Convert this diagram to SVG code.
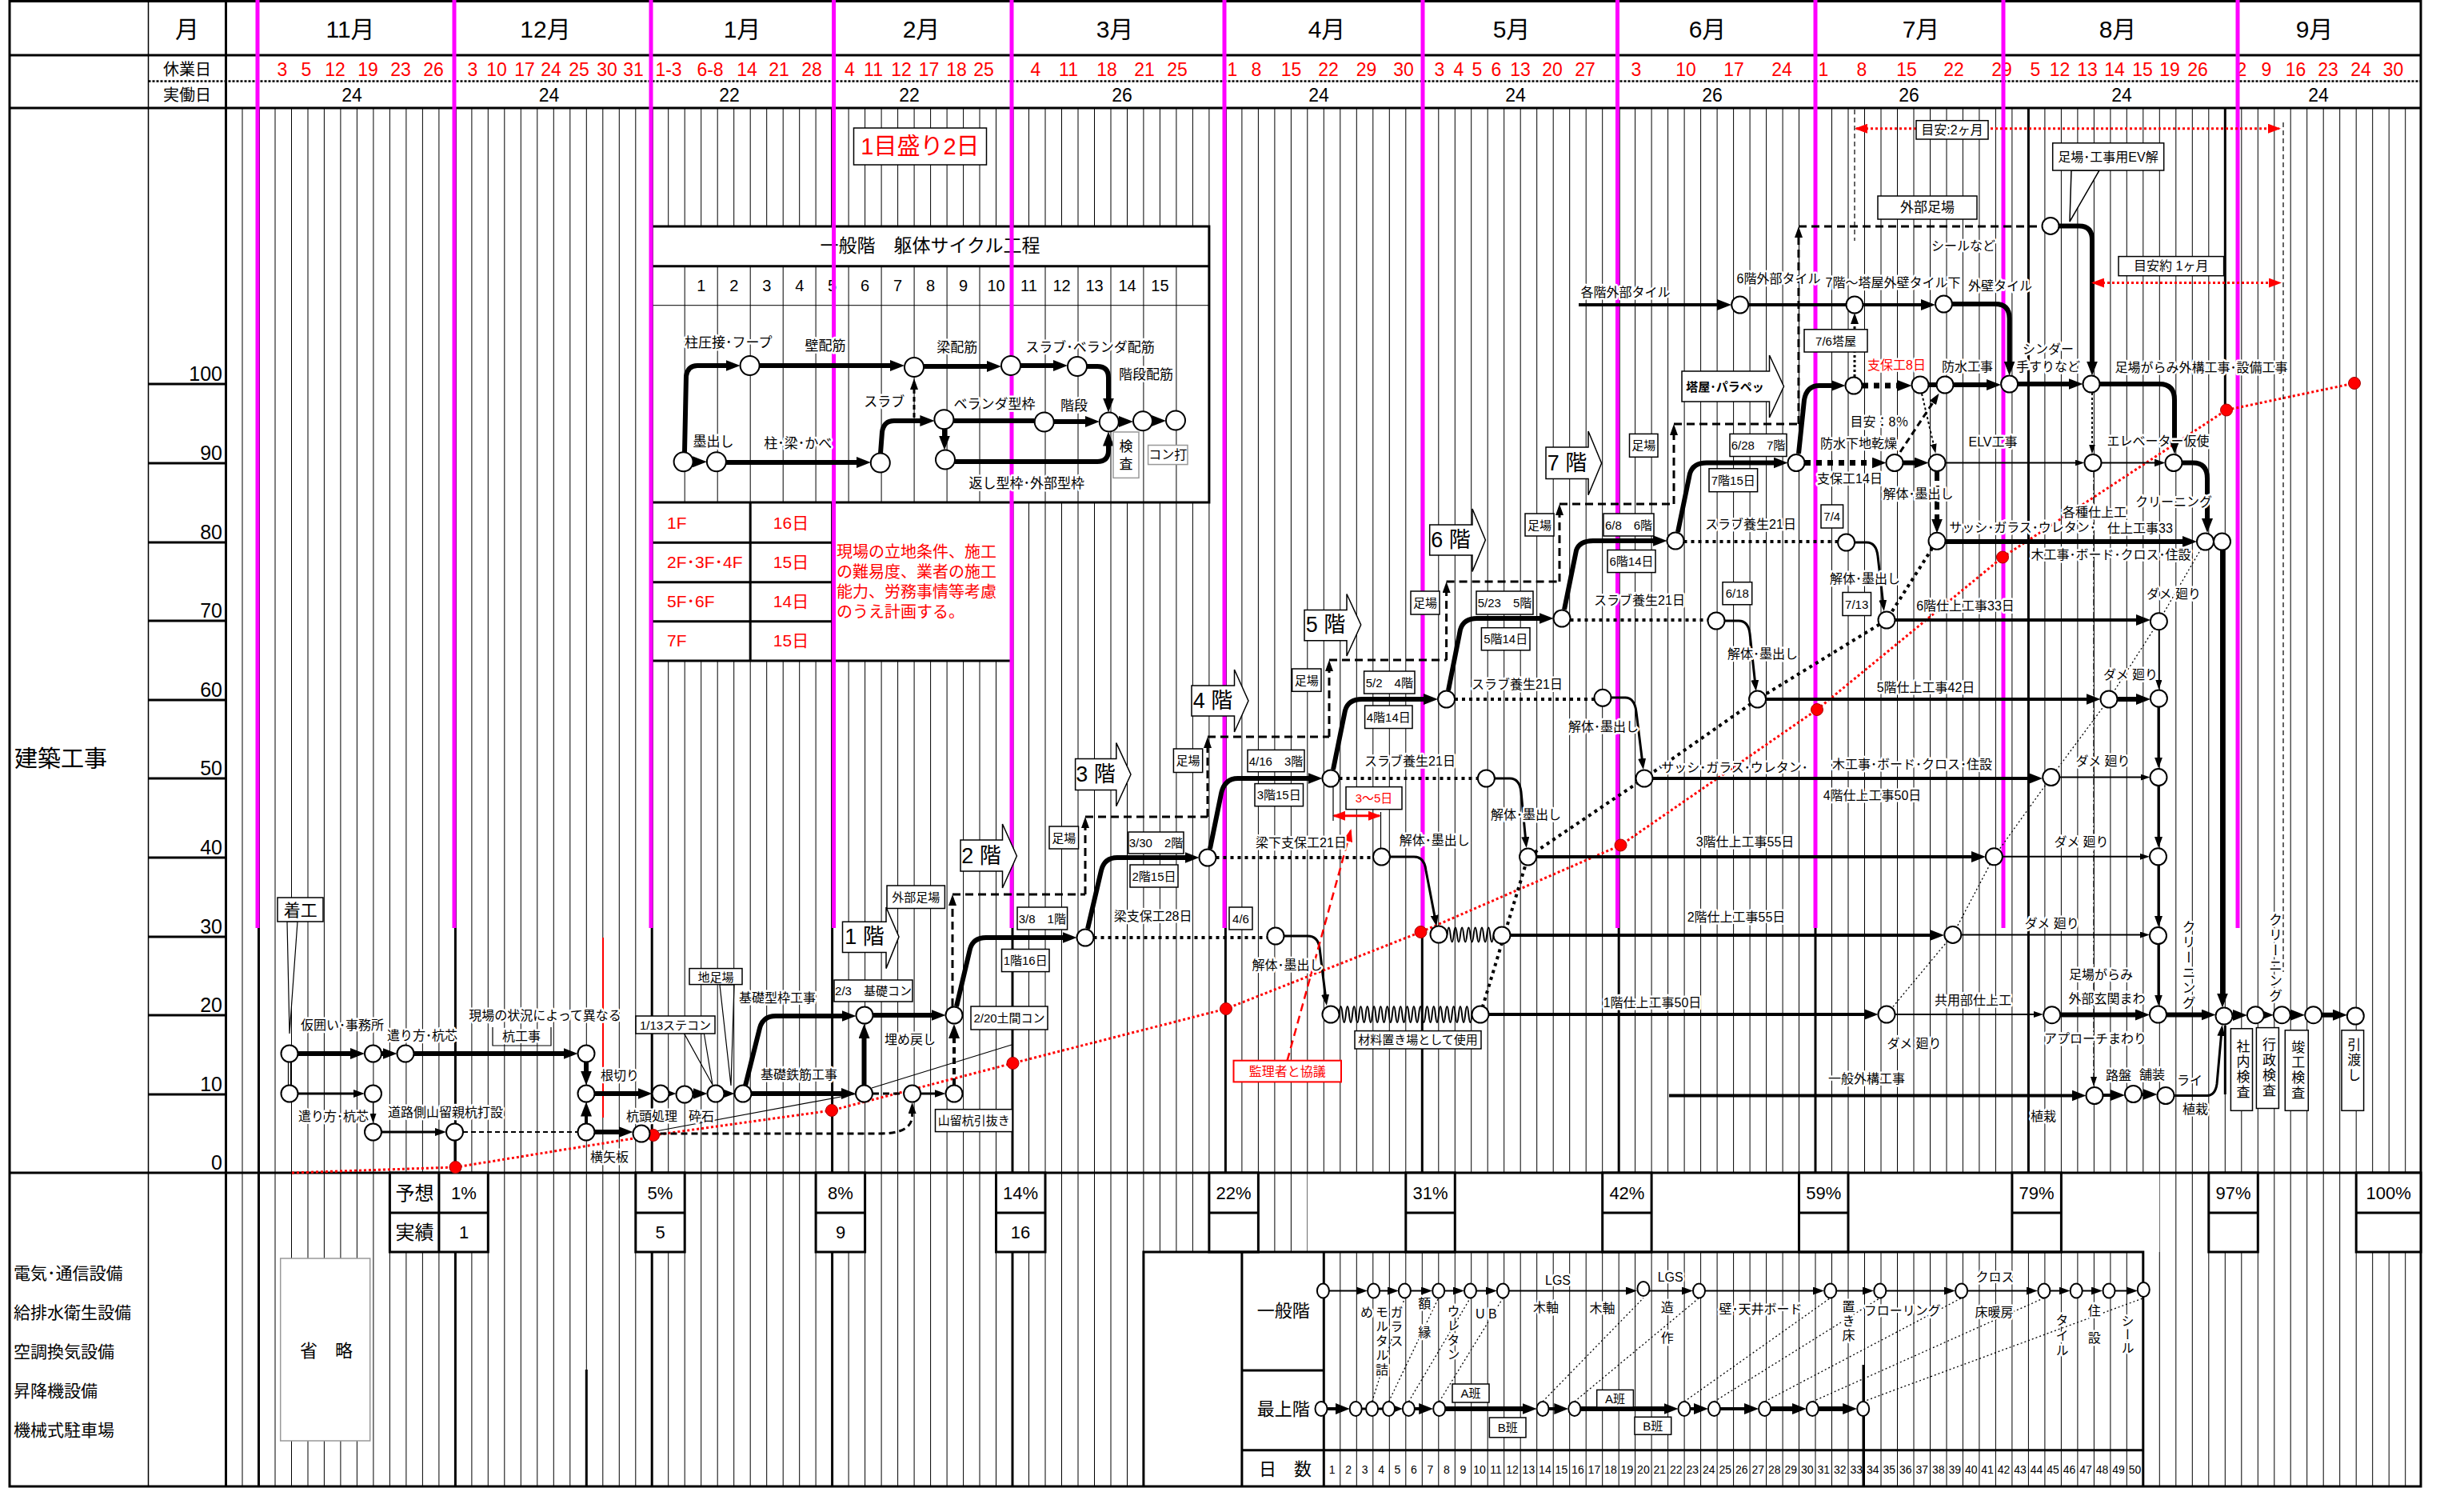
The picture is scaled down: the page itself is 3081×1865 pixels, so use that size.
<svg xmlns="http://www.w3.org/2000/svg" width="3081" height="1865" viewBox="0 0 3081 1865">
<defs>
<style>
svg{font-family:"Liberation Sans Narrow","Liberation Sans","Noto Sans CJK JP",sans-serif;font-size:16px;text-anchor:middle}
text{dominant-baseline:central}
.l{paint-order:stroke;stroke:#fff;stroke-width:5px;stroke-linejoin:round}
.r{fill:#f00}
.v{writing-mode:vertical-rl}
.g{stroke:#000;stroke-width:1;fill:none}
.mb{stroke:#000;stroke-width:3;fill:none}
.mg{stroke:#f0f;stroke-width:5;fill:none}
.n{fill:#fff;stroke:#000;stroke-width:2}
.bx{fill:#fff;stroke:#000;stroke-width:1.5}
.gb{fill:#fff;stroke:#999;stroke-width:1.5}
.bb{fill:#fff;stroke:#000;stroke-width:3}
.w6{stroke:#000;stroke-width:6;fill:none}
.w4{stroke:#000;stroke-width:4;fill:none}
.w3{stroke:#000;stroke-width:3;fill:none}
.w2{stroke:#000;stroke-width:2;fill:none}
.w1{stroke:#000;stroke-width:1.2;fill:none}
.dt{stroke:#000;stroke-width:4;fill:none;stroke-dasharray:4 5}
.hd{stroke:#000;stroke-width:7;fill:none;stroke-dasharray:7 7}
.ds{stroke:#000;stroke-width:3;fill:none;stroke-dasharray:10 6}
.td{stroke:#000;stroke-width:1.3;fill:none;stroke-dasharray:2 3}
.rd{stroke:#f00;stroke-width:3;fill:none;stroke-dasharray:3 3}
.rdot{fill:#f00;stroke:#a00;stroke-width:1}
.ba{fill:#fff;stroke:#000;stroke-width:1.5}
</style>
<marker id="a" markerUnits="userSpaceOnUse" markerWidth="18" markerHeight="14" refX="9" refY="7" orient="auto"><path d="M0,0L18,7L0,14z"/></marker>
<marker id="am" markerUnits="userSpaceOnUse" markerWidth="14" markerHeight="10" refX="7" refY="5" orient="auto"><path d="M0,0L14,5L0,10z"/></marker>
<marker id="at" markerUnits="userSpaceOnUse" markerWidth="12" markerHeight="8" refX="6" refY="4" orient="auto"><path d="M0,0L12,4L0,8z"/></marker>
<marker id="ar" markerUnits="userSpaceOnUse" markerWidth="16" markerHeight="12" refX="14" refY="6" orient="auto-start-reverse"><path d="M0,0L16,6L0,12z" fill="#f00"/></marker>
</defs>
<rect width="3081" height="1865" fill="#fff"/>

<!-- grid -->
<path class="g" d="M303,135V1858M323.5,135V1858M344,135V1858M364.5,135V1858M385,135V1858M405.4,135V1858M425.9,135V1858M446.4,135V1858M466.9,135V1858M487.4,135V1858M507.9,135V1858M528.4,135V1858M548.9,135V1858M569.4,135V1858M589.9,135V1858M610.3,135V1858M630.8,135V1858M651.3,135V1858M671.8,135V1858M692.3,135V1858M712.8,135V1858M733.3,135V1858M753.8,135V1858M774.3,135V1858M794.8,135V1858M815.2,135V1858M835.7,135V1858M856.2,135V1858M876.7,135V1858M897.2,135V1858M917.7,135V1858M938.2,135V1858M958.7,135V1858M979.2,135V1858M999.7,135V1858M1020.1,135V1858M1040.6,135V1858M1061.1,135V1858M1081.6,135V1858M1102.1,135V1858M1122.6,135V1858M1143.1,135V1858M1163.6,135V1858M1184.1,135V1858M1204.6,135V1858M1225,135V1858M1245.5,135V1858M1266,135V1858M1286.5,135V1858M1307,135V1858M1327.5,135V1858M1348,135V1858M1368.5,135V1858M1389,135V1858M1409.5,135V1858M1429.9,135V1858M1450.4,135V1858M1470.9,135V1858M1491.4,135V1858M1511.9,135V1858M1532.4,135V1858M1552.9,135V1858M1573.4,135V1858M1593.9,135V1858M1614.4,135V1858M1634.8,135V1858M1655.3,135V1858M1675.8,135V1858M1696.3,135V1858M1716.8,135V1858M1737.3,135V1858M1757.8,135V1858M1778.3,135V1858M1798.8,135V1858M1819.3,135V1858M1839.7,135V1858M1860.2,135V1858M1880.7,135V1858M1901.2,135V1858M1921.7,135V1858M1942.2,135V1858M1962.7,135V1858M1983.2,135V1858M2003.7,135V1858M2024.2,135V1858M2044.6,135V1858M2065.1,135V1858M2085.6,135V1858M2106.1,135V1858M2126.6,135V1858M2147.1,135V1858M2167.6,135V1858M2188.1,135V1858M2208.6,135V1858M2229.1,135V1858M2249.5,135V1858M2270,135V1858M2290.5,135V1858M2311,135V1858M2331.5,135V1858M2352,135V1858M2372.5,135V1858M2393,135V1858M2413.5,135V1858M2434,135V1858M2454.4,135V1858M2474.9,135V1858M2495.4,135V1858M2515.9,135V1858M2536.4,135V1858M2556.9,135V1858M2577.4,135V1858M2597.9,135V1858M2618.4,135V1858M2638.9,135V1858M2659.3,135V1858M2679.8,135V1858M2700.3,135V1858M2720.8,135V1858M2741.3,135V1858M2761.8,135V1858M2782.3,135V1858M2802.8,135V1858M2823.3,135V1858M2843.8,135V1858M2864.2,135V1858M2884.7,135V1858M2905.2,135V1858M2925.7,135V1858M2946.2,135V1858M2966.7,135V1858M2987.2,135V1858M3007.7,135V1858"/>

<!-- month boundary black lines -->
<path class="mb" d="M323.5,135V1858M569.4,135V1858M815.2,135V1858M1040.6,135V1858M1266,135V1858M1532.4,135V1565M1778.3,135V1466M2024.2,135V1466M2270,135V1466M2536.4,135V1466M2782.3,135V513M2782.3,1282V1368M733.3,1712V1858M2330,1706V1858"/>
<path d="M754,1172V1397" stroke="#f00" stroke-width="2"/>

<!-- white overlays -->
<rect x="815.2" y="283" width="696.7" height="345" fill="#fff"/>
<rect x="815.2" y="628" width="450.8" height="198" fill="#fff"/>
<rect x="1429.9" y="1565" width="1249.9" height="293" fill="#fff"/>
<rect x="1634.8" y="1466" width="1065.5" height="99" fill="#fff"/>
<rect x="1067.5" y="160" width="166" height="46" fill="#fff" stroke="#000" stroke-width="1.5"/>
<text x="1150.5" y="183" class="r" style="font-size:29px">1目盛り2日</text>
<rect x="350.7" y="1573" width="112" height="228" class="gb" stroke-width="2"/>
<text x="408" y="1688" style="font-size:22px">省　略</text>

<!-- frame -->
<rect x="12" y="1.5" width="3015" height="1856.5" fill="none" stroke="#000" stroke-width="3"/>
<path d="M185.5,1V1858" stroke="#000" stroke-width="1.5"/>
<path class="mb" d="M282.5,1V1858M12,69H3027M12,135H3027M12,1466H3027"/>
<path d="M185.5,101.6H3027" stroke="#000" stroke-width="2.5" stroke-dasharray="3 2"/>
<path class="mb" d="M185.5,480H282.5M185.5,579H282.5M185.5,678H282.5M185.5,776H282.5M185.5,875H282.5M185.5,973H282.5M185.5,1072H282.5M185.5,1171H282.5M185.5,1269H282.5M185.5,1368H282.5"/>

<!-- header text -->
<text x="234" y="36" style="font-size:30px">月</text>
<text x="234" y="87" style="font-size:20px">休業日</text>
<text x="234" y="119" style="font-size:20px">実働日</text>
<g style="font-size:30px">
<text x="438" y="36">11月</text><text x="682" y="36">12月</text><text x="928" y="36">1月</text><text x="1152" y="36">2月</text><text x="1394" y="36">3月</text><text x="1659" y="36">4月</text><text x="1890" y="36">5月</text><text x="2135" y="36">6月</text><text x="2402" y="36">7月</text><text x="2648" y="36">8月</text><text x="2894" y="36">9月</text>
</g>
<g class="r" style="font-size:23px">
<text x="353" y="87">3</text><text x="383" y="87">5</text><text x="419" y="87">12</text><text x="460" y="87">19</text><text x="501" y="87">23</text><text x="542" y="87">26</text>
<text x="591" y="87">3</text><text x="621" y="87">10</text><text x="656" y="87">17</text><text x="689" y="87">24</text><text x="724" y="87">25</text><text x="759" y="87">30</text><text x="792" y="87">31</text>
<text x="836" y="87">1-3</text><text x="888" y="87">6-8</text><text x="934" y="87">14</text><text x="974" y="87">21</text><text x="1015" y="87">28</text>
<text x="1062.5" y="87">4</text><text x="1092" y="87">11</text><text x="1127" y="87">12</text><text x="1161.5" y="87">17</text><text x="1196" y="87">18</text><text x="1230" y="87">25</text>
<text x="1295" y="87">4</text><text x="1336" y="87">11</text><text x="1384" y="87">18</text><text x="1431" y="87">21</text><text x="1472" y="87">25</text>
<text x="1541" y="87">1</text><text x="1571" y="87">8</text><text x="1614.6" y="87">15</text><text x="1661" y="87">22</text><text x="1708.6" y="87">29</text><text x="1755" y="87">30</text>
<text x="1800" y="87">3</text><text x="1824" y="87">4</text><text x="1847" y="87">5</text><text x="1871" y="87">6</text><text x="1901" y="87">13</text><text x="1941" y="87">20</text><text x="1982" y="87">27</text>
<text x="2046" y="87">3</text><text x="2108" y="87">10</text><text x="2168" y="87">17</text><text x="2228" y="87">24</text>
<text x="2280" y="87">1</text><text x="2328" y="87">8</text><text x="2384" y="87">15</text><text x="2443" y="87">22</text><text x="2503" y="87">29</text>
<text x="2545" y="87">5</text><text x="2575.5" y="87">12</text><text x="2610" y="87">13</text><text x="2644" y="87">14</text><text x="2679" y="87">15</text><text x="2713" y="87">19</text><text x="2748" y="87">26</text>
<text x="2803" y="87">2</text><text x="2834" y="87">9</text><text x="2870.5" y="87">16</text><text x="2911" y="87">23</text><text x="2952" y="87">24</text><text x="2992.5" y="87">30</text>
</g>
<g style="font-size:23px">
<text x="440" y="119">24</text><text x="686.5" y="119">24</text><text x="912" y="119">22</text><text x="1137" y="119">22</text><text x="1403" y="119">26</text><text x="1649" y="119">24</text><text x="1895" y="119">24</text><text x="2141" y="119">26</text><text x="2387" y="119">26</text><text x="2653" y="119">24</text><text x="2899" y="119">24</text>
</g>
<!-- y axis -->
<g style="font-size:25px;text-anchor:end">
<text x="278" y="467">100</text><text x="278" y="566">90</text><text x="278" y="665">80</text><text x="278" y="763">70</text><text x="278" y="862">60</text><text x="278" y="960">50</text><text x="278" y="1059">40</text><text x="278" y="1158">30</text><text x="278" y="1256">20</text><text x="278" y="1355">10</text><text x="278" y="1453">0</text>
</g>
<g style="text-anchor:start">
<text x="18" y="949" style="font-size:29px">建築工事</text>
<text x="17" y="1591" style="font-size:21px">電気･通信設備</text>
<text x="17" y="1640.6" style="font-size:21px">給排水衛生設備</text>
<text x="17" y="1689" style="font-size:21px">空調換気設備</text>
<text x="17" y="1738" style="font-size:21px">昇降機設備</text>
<text x="17" y="1787" style="font-size:21px">機械式駐車場</text>
</g>

<!-- cycle table structure -->
<g id="cycle-table">
<rect x="815.2" y="283" width="696.7" height="345" fill="none" stroke="#000" stroke-width="3"/>
<path class="mb" d="M815.2,332.7H1511.9"/>
<path d="M815.2,381.7H1511.9" stroke="#000" stroke-width="1"/>
<path class="g" d="M856.2,332.7V628M897.2,332.7V628M938.2,332.7V628M979.2,332.7V628M1020.1,332.7V628M1061.1,332.7V628M1102.1,332.7V628M1143.1,332.7V628M1184.1,332.7V628M1225,332.7V628M1266,332.7V628M1307,332.7V628M1348,332.7V628M1389,332.7V628M1429.9,332.7V628M1470.9,332.7V628"/>
<text x="1163" y="307" style="font-size:23px">一般階　躯体サイクル工程</text>
<g style="font-size:20px">
<text x="876.7" y="357">1</text><text x="917.7" y="357">2</text><text x="958.7" y="357">3</text><text x="999.7" y="357">4</text><text x="1040.6" y="357">5</text><text x="1081.6" y="357">6</text><text x="1122.6" y="357">7</text><text x="1163.6" y="357">8</text><text x="1204.6" y="357">9</text><text x="1245.5" y="357">10</text><text x="1286.5" y="357">11</text><text x="1327.5" y="357">12</text><text x="1368.5" y="357">13</text><text x="1409.5" y="357">14</text><text x="1450.4" y="357">15</text>
</g>
<path class="mb" d="M815.2,628V826M815.2,678.3H1040.6M815.2,727.7H1040.6M815.2,776.7H1040.6M815.2,826H1266M938.2,628V826M1040.6,628V826"/>
<g class="r" style="font-size:21px">
<text x="834" y="653" style="text-anchor:start">1F</text><text x="989" y="653">16日</text>
<text x="834" y="702.4" style="text-anchor:start">2F･3F･4F</text><text x="989" y="702.4">15日</text>
<text x="834" y="751.8" style="text-anchor:start">5F･6F</text><text x="989" y="751.8">14日</text>
<text x="834" y="800.8" style="text-anchor:start">7F</text><text x="989" y="800.8">15日</text>
</g>
<g class="r" style="font-size:20px;text-anchor:start">
<text x="1046" y="690">現場の立地条件、施工</text>
<text x="1046" y="715">の難易度、業者の施工</text>
<text x="1046" y="740">能力、労務事情等考慮</text>
<text x="1046" y="765">のうえ計画する。</text>
</g>
</g>

<!-- lower boxes -->
<g id="progress-boxes" style="font-size:22px">
<rect x="487.4" y="1466" width="122.9" height="99" class="bb"/><path class="mb" d="M548.9,1466V1565M487.4,1516H610.3"/>
<text x="518.6" y="1491" style="font-size:24px">予想</text><text x="580" y="1491">1%</text><text x="518.6" y="1540" style="font-size:24px">実績</text><text x="580" y="1540">1</text>
<rect x="794.8" y="1466" width="61.4" height="99" class="bb"/><path class="mb" d="M794.8,1516H856.2"/><text x="825.5" y="1491">5%</text><text x="825.5" y="1540">5</text>
<rect x="1020.1" y="1466" width="61.5" height="99" class="bb"/><path class="mb" d="M1020.1,1516H1081.6"/><text x="1051" y="1491">8%</text><text x="1051" y="1540">9</text>
<rect x="1245.5" y="1466" width="61.5" height="99" class="bb"/><path class="mb" d="M1245.5,1516H1307"/><text x="1276" y="1491">14%</text><text x="1276" y="1540">16</text>
<rect x="1511.9" y="1466" width="61.5" height="99" class="bb"/><path class="mb" d="M1511.9,1516H1573.4"/><text x="1542.6" y="1491">22%</text>
<rect x="1757.8" y="1466" width="61.5" height="99" class="bb"/><path class="mb" d="M1757.8,1516H1819.3"/><text x="1788.5" y="1491">31%</text>
<rect x="2003.7" y="1466" width="61.4" height="99" class="bb"/><path class="mb" d="M2003.7,1516H2065.1"/><text x="2034.4" y="1491">42%</text>
<rect x="2249.5" y="1466" width="61.5" height="99" class="bb"/><path class="mb" d="M2249.5,1516H2311"/><text x="2280.2" y="1491">59%</text>
<rect x="2515.9" y="1466" width="61.5" height="99" class="bb"/><path class="mb" d="M2515.9,1516H2577.4"/><text x="2546.6" y="1491">79%</text>
<rect x="2761.8" y="1466" width="61.5" height="99" class="bb"/><path class="mb" d="M2761.8,1516H2823.3"/><text x="2792.5" y="1491">97%</text>
<rect x="2946.2" y="1466" width="80.8" height="99" class="bb"/><path class="mb" d="M2946.2,1516H3027"/><text x="2986.6" y="1491">100%</text>
</g>

<!-- lower right schedule box -->
<g id="finish-box">
<path class="g" d="M1675.8,1565V1858M1696.3,1565V1858M1716.8,1565V1858M1737.3,1565V1858M1757.8,1565V1858M1778.3,1565V1858M1798.8,1565V1858M1819.3,1565V1858M1839.7,1565V1858M1860.2,1565V1858M1880.7,1565V1858M1901.2,1565V1858M1921.7,1565V1858M1942.2,1565V1858M1962.7,1565V1858M1983.2,1565V1858M2003.7,1565V1858M2024.2,1565V1858M2044.6,1565V1858M2065.1,1565V1858M2085.6,1565V1858M2106.1,1565V1858M2126.6,1565V1858M2147.1,1565V1858M2167.6,1565V1858M2188.1,1565V1858M2208.6,1565V1858M2229.1,1565V1858M2249.5,1565V1858M2270,1565V1858M2290.5,1565V1858M2311,1565V1858M2331.5,1565V1858M2352,1565V1858M2372.5,1565V1858M2393,1565V1858M2413.5,1565V1858M2434,1565V1858M2454.4,1565V1858M2474.9,1565V1858M2495.4,1565V1858M2515.9,1565V1858M2536.4,1565V1858M2556.9,1565V1858M2577.4,1565V1858M2597.9,1565V1858M2618.4,1565V1858M2638.9,1565V1858M2659.3,1565V1858"/>
<path class="mb" d="M1429.9,1858V1565H2679.8V1858M1552.9,1565V1858M1655.3,1565V1858M1552.9,1713H1655.3M1552.9,1812.7H2679.8M2330,1706V1858"/>
<text x="1604.7" y="1638.6" style="font-size:22px">一般階</text>
<text x="1604.7" y="1761.3" style="font-size:22px">最上階</text>
<text x="1607" y="1836" style="font-size:22px">日　数</text>
<g style="font-size:14px">
<text x="1665.6" y="1837">1</text><text x="1686.1" y="1837">2</text><text x="1706.6" y="1837">3</text><text x="1727.1" y="1837">4</text><text x="1747.5" y="1837">5</text><text x="1768" y="1837">6</text><text x="1788.5" y="1837">7</text><text x="1809" y="1837">8</text><text x="1829.5" y="1837">9</text><text x="1850" y="1837">10</text><text x="1870.5" y="1837">11</text><text x="1891" y="1837">12</text><text x="1911.4" y="1837">13</text><text x="1931.9" y="1837">14</text><text x="1952.4" y="1837">15</text><text x="1972.9" y="1837">16</text><text x="1993.4" y="1837">17</text><text x="2013.9" y="1837">18</text><text x="2034.4" y="1837">19</text><text x="2054.9" y="1837">20</text><text x="2075.3" y="1837">21</text><text x="2095.8" y="1837">22</text><text x="2116.3" y="1837">23</text><text x="2136.8" y="1837">24</text><text x="2157.3" y="1837">25</text><text x="2177.8" y="1837">26</text><text x="2198.3" y="1837">27</text><text x="2218.8" y="1837">28</text><text x="2239.3" y="1837">29</text><text x="2259.8" y="1837">30</text><text x="2280.2" y="1837">31</text><text x="2300.7" y="1837">32</text><text x="2321.2" y="1837">33</text><text x="2341.7" y="1837">34</text><text x="2362.2" y="1837">35</text><text x="2382.7" y="1837">36</text><text x="2403.2" y="1837">37</text><text x="2423.7" y="1837">38</text><text x="2444.2" y="1837">39</text><text x="2464.7" y="1837">40</text><text x="2485.1" y="1837">41</text><text x="2505.6" y="1837">42</text><text x="2526.1" y="1837">43</text><text x="2546.6" y="1837">44</text><text x="2567.1" y="1837">45</text><text x="2587.6" y="1837">46</text><text x="2608.1" y="1837">47</text><text x="2628.6" y="1837">48</text><text x="2649.1" y="1837">49</text><text x="2669.6" y="1837">50</text>
</g>
</g>

<!-- magenta month lines -->
<path class="mg" d="M322,0V1160M568,0V1160M814,0V1160M1042.6,0V1160M1265,0V1160M1531,0V1160M1779,0V1160M2022.5,0V1160M2270,0V1160M2505,0V1160M2798,0V1160"/>

<!-- block arrows (floors) -->
<g id="floor-arrows">
<polygon class="ba" points="1053.5,1152.3 1108,1152.3 1108,1134 1124,1171 1108,1210.6 1108,1190.5 1053.5,1190.5"/><text x="1081" y="1171" style="font-size:27px">1 階</text>
<polygon class="ba" points="1201,1050 1253.5,1050 1253.5,1030 1271.4,1070 1253.5,1110 1253.5,1089 1201,1089"/><text x="1227" y="1070" style="font-size:27px">2 階</text>
<polygon class="ba" points="1344.6,948.6 1395.8,948.6 1395.8,928.6 1414,968 1395.8,1007.7 1395.8,987.6 1344.6,987.6"/><text x="1370" y="968" style="font-size:27px">3 階</text>
<polygon class="ba" points="1490,857 1543.5,857 1543.5,837 1561,876 1543.5,915 1543.5,895 1490,895"/><text x="1516.5" y="876" style="font-size:27px">4 階</text>
<polygon class="ba" points="1631,762.6 1684,762.6 1684,742.5 1701.7,781 1684,820 1684,800.8 1631,800.8"/><text x="1657.5" y="781" style="font-size:27px">5 階</text>
<polygon class="ba" points="1787.7,656 1841,656 1841,636 1857.4,675 1841,714.4 1841,694 1787.7,694"/><text x="1814" y="675" style="font-size:27px">6 階</text>
<polygon class="ba" points="1933,559 1986,559 1986,539 2002.6,579 1986,618.7 1986,598.6 1933,598.6"/><text x="1959.5" y="579" style="font-size:27px">7 階</text>
<polygon class="ba" points="2103,464 2212.5,464 2212.5,444 2230.5,483 2212.5,522 2212.5,502 2103,502"/><text x="2157" y="483" style="font-size:15px;font-weight:bold">塔屋･パラペッ</text>
</g>

<!-- connectors -->
<g id="connectors">
<path class="rd" d="M365,1466L569.5,1459L817,1419L1040,1388L1266.5,1329L1533,1261L1776.5,1165L2026.5,1056.5L2272,887L2504,696.5L2784,512.5L2944,479"/>
<path class="w6" d="M372.5,1317H447" marker-end="url(#a)"/>
<path class="w6" d="M477,1317H487.5" marker-end="url(#a)"/>
<path class="w6" d="M517.5,1317H713.5" marker-end="url(#a)"/>
<path class="w1" d="M360.5,1328V1356M363.5,1328V1356"/>
<path class="w3" d="M372.5,1367H449" marker-end="url(#am)"/>
<path class="w1" d="M466.5,1378V1398" marker-end="url(#at)"/>
<path class="w3" d="M477,1415H551" marker-end="url(#am)"/>
<path class="w2" d="M579,1415H722" stroke-dasharray="6 4"/>
<path class="w2" d="M568.5,1426V1452"/>
<path class="w6" d="M733,1328V1347.5" marker-end="url(#a)"/>
<path class="w4" d="M733,1404V1386.5" marker-end="url(#a)"/>
<path class="w6" d="M743.5,1367H806.5" marker-end="url(#a)"/>
<path class="w6" d="M743.5,1415H782.5" marker-end="url(#a)"/>
<path class="w6" d="M830,1367H836.5" marker-end="url(#a)"/>
<path class="w6" d="M866.5,1367H875.5" marker-end="url(#a)"/>
<path class="w6" d="M905.5,1367H909.5" marker-end="url(#a)"/>
<path class="w6" d="M932,1357L950,1285Q954,1270 970,1270H1061.5" marker-end="url(#a)"/>
<path class="w6" d="M939.5,1367H1061" marker-end="url(#a)"/>
<path class="w6" d="M1080.5,1356V1289" marker-end="url(#a)"/>
<path class="w3" d="M1091,1367H1130" stroke-dasharray="8 5"/>
<path class="w3" d="M1151,1367H1175.5" marker-end="url(#am)"/>
<path class="w6" d="M1091.5,1269H1173.5" marker-end="url(#a)"/>
<path class="w4" d="M1193,1356V1289" stroke-dasharray="8 5" marker-end="url(#a)"/>
<path class="w3" d="M812.5,1417H1100Q1140,1417 1140.6,1395V1385" stroke-dasharray="8 5" marker-end="url(#am)"/>
<path class="w1" d="M820,1414L1078,1366M1090,1360L1265,1306"/>
<path class="w6" d="M1196,1258L1213,1186Q1217,1172 1233,1172H1337.5" marker-end="url(#a)"/>
<path class="dt" d="M1367.5,1172H1584.5"/>
<path class="w6" d="M1360,1161L1377,1088Q1381,1072 1397,1072H1490.5" marker-end="url(#a)"/>
<path class="w3" d="M1605.5,1170H1635Q1648,1170 1650,1185L1658,1250" marker-end="url(#am)"/>
<path class="w2" d="M1674.5,1268q2.075,-20 4.15,0q2.075,20 4.15,0q2.075,-20 4.15,0q2.075,20 4.15,0q2.075,-20 4.15,0q2.075,20 4.15,0q2.075,-20 4.15,0q2.075,20 4.15,0q2.075,-20 4.15,0q2.075,20 4.15,0q2.075,-20 4.15,0q2.075,20 4.15,0q2.075,-20 4.15,0q2.075,20 4.15,0q2.075,-20 4.15,0q2.075,20 4.15,0q2.075,-20 4.15,0q2.075,20 4.15,0q2.075,-20 4.15,0q2.075,20 4.15,0q2.075,-20 4.15,0q2.075,20 4.15,0q2.075,-20 4.15,0q2.075,20 4.15,0q2.075,-20 4.15,0q2.075,20 4.15,0q2.075,-20 4.15,0q2.075,20 4.15,0q2.075,-20 4.15,0q2.075,20 4.15,0q2.075,-20 4.15,0q2.075,20 4.15,0q2.075,-20 4.15,0q2.075,20 4.15,0q2.075,-20 4.15,0q2.075,20 4.15,0q2.075,-20 4.15,0q2.075,20 4.15,0q2.075,-20 4.15,0q2.075,20 4.15,0"/>
<path class="w4" d="M1861.5,1268H2339.5" marker-end="url(#a)"/>
<path class="w6" d="M1513,1061L1527,992Q1531,973 1548,973H1644.5" marker-end="url(#a)"/>
<path class="dt" d="M1520.5,1072H1717"/>
<path class="w6" d="M1667,962L1682,888Q1686,874 1703,874H1789" marker-end="url(#a)"/>
<path class="dt" d="M1674.5,973H1848"/>
<path class="w3" d="M1738,1071H1768Q1781,1071 1783,1088L1795,1151" marker-end="url(#am)"/>
<path class="w2" d="M1809.5,1168.5q2.07,-18 4.14,0q2.07,18 4.14,0q2.07,-18 4.14,0q2.07,18 4.14,0q2.07,-18 4.14,0q2.07,18 4.14,0q2.07,-18 4.14,0q2.07,18 4.14,0q2.07,-18 4.14,0q2.07,18 4.14,0q2.07,-18 4.14,0q2.07,18 4.14,0q2.07,-18 4.14,0q2.07,18 4.14,0"/>
<path class="w4" d="M1888.5,1169H2422" marker-end="url(#a)"/>
<path class="w3" d="M1869,973H1888Q1900,973 1902,990L1908,1053" marker-end="url(#am)"/>
<path class="w4" d="M1921,1071H2474" marker-end="url(#a)"/>
<path class="w6" d="M1811,863L1826,787Q1830,773 1847,773H1933.5" marker-end="url(#a)"/>
<path class="dt" d="M1819,874H1993.5"/>
<path class="w3" d="M2014.5,872H2032Q2044,872 2046,890L2054,955" marker-end="url(#am)"/>
<path class="w4" d="M2066.5,973H2545" marker-end="url(#a)"/>
<path class="w6" d="M1956,762L1971,688Q1975,676 1992,676H2075.5" marker-end="url(#a)"/>
<path class="dt" d="M1963.5,775H2135.5"/>
<path class="w3" d="M2156.5,776H2174Q2186,776 2188,792L2195,857" marker-end="url(#am)"/>
<path class="w4" d="M2208,874H2617.5" marker-end="url(#a)"/>
<path class="w6" d="M2647.5,874H2680" marker-end="url(#a)"/>
<path class="w6" d="M2098,665L2113,592Q2117,578.5 2134,578.5H2226.5" marker-end="url(#a)"/>
<path class="dt" d="M2105.5,677H2298"/>
<path class="w3" d="M2319,678H2334Q2346,678 2348,695L2355,757" marker-end="url(#am)"/>
<path class="w4" d="M2369.5,775H2680" marker-end="url(#a)"/>
<path class="w6" d="M2249,567L2256,500Q2259,482 2275,482H2298.5" marker-end="url(#a)"/>
<path class="hd" d="M2257,578.5H2349.5" marker-end="url(#a)"/>
<path class="hd" d="M2329,482H2381.5" marker-end="url(#a)"/>
<path class="w6" d="M2411,481H2422"/>
<path class="w6" d="M2442.5,481H2493" marker-end="url(#a)"/>
<path class="w6" d="M2523,480H2595.5" marker-end="url(#a)"/>
<path class="w6" d="M2625.5,480H2700Q2719,480 2719,500V558.5" marker-end="url(#a)"/>
<path class="w2" d="M2616,491V561.5" stroke-dasharray="3 3" marker-end="url(#at)"/>
<path class="w2" d="M2403,492L2419,561" stroke-dasharray="3 3" marker-end="url(#at)"/>
<path class="w6" d="M2379.5,578.5H2402.5" marker-end="url(#a)"/>
<path class="w3" d="M2376,565L2420.7,497.6" stroke-dasharray="8 5" marker-end="url(#am)"/>
<path class="w2" d="M2432.5,578.5H2600.5" marker-end="url(#at)"/>
<path class="w2" d="M2627.5,578.5H2700.5" marker-end="url(#am)"/>
<path class="w6" d="M2728.5,578.5H2742Q2760,578.5 2760,598V657" marker-end="url(#a)"/>
<path class="w6" d="M2422,589V657.5" stroke-dasharray="12 6" marker-end="url(#a)"/>
<path class="w6" d="M2432.5,677H2738" marker-end="url(#a)"/>
<path class="w6" d="M2779,688V1250.5" marker-end="url(#a)"/>
<path class="w4" d="M1974,381H2156" marker-end="url(#a)"/>
<path class="w4" d="M2186,381H2308.5"/>
<path class="w4" d="M2329.5,381H2411" marker-end="url(#a)"/>
<path class="w6" d="M2441,380H2495Q2512.6,380 2512.6,398V460.5" marker-end="url(#a)"/>
<path class="w6" d="M2574.5,282.4H2600Q2616,282.4 2616,300V460.5" marker-end="url(#a)"/>
<path class="w3" d="M2319,471V398" stroke-dasharray="3 3" marker-end="url(#am)"/>
<path class="ds" d="M1191,1258V1125" marker-end="url(#am)"/>
<path class="ds" d="M1357,1118V1028" marker-end="url(#am)"/>
<path class="ds" d="M1510,1021V928" marker-end="url(#am)"/>
<path class="ds" d="M1662,921V832" marker-end="url(#am)"/>
<path class="ds" d="M1808.6,825V734" marker-end="url(#am)"/>
<path class="ds" d="M1950,727V637" marker-end="url(#am)"/>
<path class="ds" d="M2093,630V537" marker-end="url(#am)"/>
<path class="ds" d="M2249,530V290" marker-end="url(#am)"/>
<path class="ds" d="M1191,1118H1357M1357,1021H1510M1510,921H1662M1662,825H1808.6M1808.6,727H1950M1950,630H2093M2093,530H2249M2249,283H2553.5"/>
<path d="M2321,160.7H2850" stroke="#f00" stroke-width="3" stroke-dasharray="3 3" marker-start="url(#ar)" marker-end="url(#ar)"/>
<path d="M2617,353.6H2851" stroke="#f00" stroke-width="3" stroke-dasharray="3 3" marker-start="url(#ar)" marker-end="url(#ar)"/>
<path class="w1" d="M2855,153V1215" stroke-dasharray="6 4"/>
<path class="w1" d="M2319,137V301" stroke-dasharray="6 4"/>
<path class="w1" d="M2618,589V1352" stroke-dasharray="8 3 2 3" marker-end="url(#at)"/>
<path class="w1" d="M2699.4,787V856" marker-end="url(#at)"/>
<path class="w3" d="M2699,884V953.6" marker-end="url(#am)"/>
<path class="w3" d="M2699,982V1053" marker-end="url(#am)"/>
<path class="w3" d="M2699,1081V1152" marker-end="url(#am)"/>
<path class="w3" d="M2699,1180V1250.5" marker-end="url(#am)"/>
<path class="w2" d="M2575,971.6H2682.5" marker-end="url(#at)"/>
<path class="w2" d="M2504,1070.8H2682" marker-end="url(#at)"/>
<path class="w2" d="M2452,1168.5H2682" marker-end="url(#at)"/>
<path class="w2" d="M2369.5,1268H2549" marker-end="url(#at)"/>
<path class="w6" d="M2576,1268.5H2679" marker-end="url(#a)"/>
<path class="w6" d="M2709,1268.5H2761.5" marker-end="url(#a)"/>
<path class="w6" d="M2791.5,1269H2801" marker-end="url(#a)"/>
<path class="w6" d="M2831,1268.7H2834" marker-end="url(#a)"/>
<path class="w6" d="M2864,1268.7H2873" marker-end="url(#a)"/>
<path class="w6" d="M2903,1268.7H2926" marker-end="url(#a)"/>
<path class="w4" d="M2087,1369.5H2599.5" marker-end="url(#a)"/>
<path class="w4" d="M2629.5,1369H2648" marker-end="url(#a)"/>
<path class="w4" d="M2678,1368H2688.5" marker-end="url(#a)"/>
<path class="w3" d="M2718.5,1369.5H2760Q2770,1369 2772,1355L2778,1288" marker-end="url(#am)"/>
<path class="dt" d="M1851,1268L1910.6,1071L2056,973L2197.6,874L2359,775L2422,676"/>
<path class="td" d="M2757.5,677L2699.4,776.7L2637,874L2564.7,971.6L2493.4,1070.8L2441.8,1168.4L2359,1268"/>
<path d="M1609.6,1325.7L1689,1038" stroke="#f00" stroke-width="2.5" fill="none" stroke-dasharray="10 6" marker-end="url(#ar)"/>
<path d="M1668,1019.8H1725" stroke="#f00" stroke-width="3" marker-start="url(#ar)" marker-end="url(#ar)"/>
<path class="w1" d="M1667,984V1026M1726.5,1015V1060"/>
<path class="w1" d="M616,1284V1307H689V1284"/>
<!-- cycle network -->
<path class="w6" d="M866.6,577.3H874.9" marker-end="url(#a)"/>
<path class="w6" d="M856,565L858,470Q860,457 872,457H916.6" marker-end="url(#a)"/>
<path class="w6" d="M949.6,457H1122" marker-end="url(#a)"/>
<path class="w6" d="M1155,458H1243" marker-end="url(#a)"/>
<path class="w6" d="M1276,457H1326" marker-end="url(#a)"/>
<path class="w6" d="M1359,458H1372Q1386,458 1386,472V506.5" marker-end="url(#a)"/>
<path class="w6" d="M907.9,578H1079.8" marker-end="url(#a)"/>
<path class="w6" d="M1101,566.5L1103,540Q1105,526 1118,526H1159.4" marker-end="url(#a)"/>
<path class="w3" d="M1143,522V480" stroke-dasharray="6 4" marker-end="url(#am)"/>
<path class="w6" d="M1192.4,526H1293.7"/>
<path class="w6" d="M1317.7,527H1365.8" marker-end="url(#a)"/>
<path class="w6" d="M1181,536.5V553.5" marker-end="url(#a)"/>
<path class="w6" d="M1194,577H1372Q1386,577 1386,563V548.5" marker-end="url(#a)"/>
<path class="w6" d="M1398.8,527H1408" marker-end="url(#a)"/>
<path class="w6" d="M1441,526H1449" marker-end="url(#a)"/>
<!-- finish box network -->
<path class="w2" d="M1662,1613.5H1703" marker-end="url(#am)"/>
<path class="w2" d="M1725,1613.5H1742" marker-end="url(#am)"/>
<path class="w2" d="M1764,1613.5H1784" marker-end="url(#am)"/>
<path class="w2" d="M1806,1613.5H1824" marker-end="url(#am)"/>
<path class="w2" d="M1846,1613.5H1865" marker-end="url(#am)"/>
<path class="w2" d="M1887,1613.5H2040" marker-end="url(#am)"/>
<path class="w2" d="M2062,1613.5H2110" marker-end="url(#am)"/>
<path class="w2" d="M2132,1613.5H2274" marker-end="url(#am)"/>
<path class="w2" d="M2296,1613.5H2336" marker-end="url(#am)"/>
<path class="w2" d="M2358,1613.5H2438" marker-end="url(#am)"/>
<path class="w2" d="M2460,1613.5H2541" marker-end="url(#am)"/>
<path class="w2" d="M2563,1613.5H2581.5" marker-end="url(#am)"/>
<path class="w2" d="M2604,1613.5H2622" marker-end="url(#am)"/>
<path class="w2" d="M2644.5,1613.5H2666" marker-end="url(#am)"/>
<path class="w4" d="M1659.5,1761H1678.7" marker-end="url(#a)"/>
<path class="w3" d="M1702.7,1761H1744"/>
<path class="w4" d="M1744,1761H1745" marker-end="url(#a)"/>
<path class="w4" d="M1769,1761H1783.2" marker-end="url(#a)"/>
<path class="w6" d="M1807,1761H1912.5" marker-end="url(#a)"/>
<path class="w4" d="M1936.5,1761H1952.3" marker-end="url(#a)"/>
<path class="w6" d="M1976.3,1761H2089.5" marker-end="url(#a)"/>
<path class="w4" d="M2113.5,1761H2126.9" marker-end="url(#a)"/>
<path class="w4" d="M2151,1761H2190" marker-end="url(#a)"/>
<path class="w6" d="M2214,1761H2249.8" marker-end="url(#a)"/>
<path class="w6" d="M2274,1761H2313.2" marker-end="url(#a)"/>
<path class="td" d="M1715.6,1752L1756.4,1622.5M1736.5,1752L1798.7,1622.5M1761.4,1752L1838.5,1622.5M1799.7,1752L1879.3,1622.5M1929,1752L2054.9,1622.5M1968.8,1752L2124.5,1622.5M2106,1752L2288.7,1622.5M2143.4,1752L2350.8,1622.5M2206.6,1752L2452.6,1622.5M2266.3,1752L2555.9,1622.5M2329.7,1752L2680.3,1622.5"/>
</g>

<!-- callouts -->
<g id="callouts">
<polygon points="359,1152 372,1152 362,1292" fill="#fff" stroke="#000" stroke-width="1.2"/>
<rect x="347" y="1122" width="57" height="30" class="bx"/><text x="375.7" y="1137" style="font-size:21px">着工</text>
<polygon points="855.6,1292 880.4,1292 891,1356" fill="none" stroke="#000" stroke-width="1.2"/>
<rect x="795" y="1270" width="99" height="22" class="bx"/><text x="844.5" y="1281" style="font-size:15px">1/13ステコン</text>
<polygon points="900,1231 918,1231 914,1357" fill="none" stroke="#000" stroke-width="1.2"/>
<rect x="862" y="1210.6" width="66" height="20" class="bx"/><text x="895" y="1221" style="font-size:15px">地足場</text>
<polygon points="2590,213 2625,213 2588,277" fill="#fff" stroke="#000" stroke-width="1.5"/>
<rect x="2566.7" y="178.8" width="139" height="34.2" class="bx"/><text x="2636" y="196" style="font-size:16px">足場･工事用EV解</text>
</g>

<!-- red progress dots -->
<g id="progress-dots">
<circle class="rdot" cx="569.5" cy="1459" r="7.5"/><circle class="rdot" cx="817" cy="1419" r="7.5"/><circle class="rdot" cx="1040" cy="1388" r="7.5"/><circle class="rdot" cx="1266.5" cy="1329" r="7.5"/><circle class="rdot" cx="1533" cy="1261" r="7.5"/><circle class="rdot" cx="1776.5" cy="1165" r="7.5"/><circle class="rdot" cx="2026.5" cy="1056.5" r="7.5"/><circle class="rdot" cx="2272" cy="887" r="7.5"/><circle class="rdot" cx="2504" cy="696.5" r="7.5"/><circle class="rdot" cx="2784" cy="512.5" r="7.5"/><circle class="rdot" cx="2944" cy="479" r="7.5"/>
</g>

<!-- nodes -->
<g id="n1"><circle class="n" cx="362" cy="1317" r="10.5"/></g>
<g id="n2"><circle class="n" cx="466.5" cy="1317" r="10.5"/></g>
<g id="n3"><circle class="n" cx="507" cy="1317" r="10.5"/></g>
<g id="n4"><circle class="n" cx="733" cy="1317" r="10.5"/></g>
<g id="n5"><circle class="n" cx="362" cy="1367" r="10.5"/></g>
<g id="n6"><circle class="n" cx="466.5" cy="1367" r="10.5"/></g>
<g id="n7"><circle class="n" cx="466.5" cy="1415" r="10.5"/></g>
<g id="n8"><circle class="n" cx="568.5" cy="1415" r="10.5"/></g>
<g id="n9"><circle class="n" cx="733" cy="1415" r="10.5"/></g>
<g id="n10"><circle class="n" cx="733" cy="1367" r="10.5"/></g>
<g id="n11"><circle class="n" cx="802" cy="1417" r="10.5"/></g>
<g id="a1"><circle class="n" cx="826" cy="1367" r="10.5"/></g>
<g id="a2"><circle class="n" cx="856" cy="1368" r="10.5"/></g>
<g id="a3"><circle class="n" cx="895" cy="1367" r="10.5"/></g>
<g id="a4"><circle class="n" cx="929" cy="1367" r="10.5"/></g>
<g id="b1"><circle class="n" cx="1081" cy="1269" r="10.5"/></g>
<g id="b2"><circle class="n" cx="1080.5" cy="1367" r="10.5"/></g>
<g id="b3"><circle class="n" cx="1140.6" cy="1367" r="10.5"/></g>
<g id="b4"><circle class="n" cx="1193" cy="1367" r="10.5"/></g>
<g id="b5"><circle class="n" cx="1193" cy="1269" r="10.5"/></g>
<g id="c1"><circle class="n" cx="1357" cy="1172" r="10.5"/></g>
<g id="c2"><circle class="n" cx="1510" cy="1072" r="10.5"/></g>
<g id="d1"><circle class="n" cx="1595" cy="1170" r="10.5"/></g>
<g id="e1"><circle class="n" cx="1664" cy="1268" r="10.5"/></g>
<g id="e2"><circle class="n" cx="1851" cy="1268" r="10.5"/></g>
<g id="d3"><circle class="n" cx="1664" cy="973" r="10.5"/></g>
<g id="d2"><circle class="n" cx="1727.5" cy="1071" r="10.5"/></g>
<g id="e3"><circle class="n" cx="1799" cy="1168" r="10.5"/></g>
<g id="e4"><circle class="n" cx="1878" cy="1169" r="10.5"/></g>
<g id="d5"><circle class="n" cx="1808.6" cy="874" r="10.5"/></g>
<g id="d6"><circle class="n" cx="1858.4" cy="973" r="10.5"/></g>
<g id="g1"><circle class="n" cx="1910.6" cy="1071" r="10.5"/></g>
<g id="d7"><circle class="n" cx="1953" cy="773" r="10.5"/></g>
<g id="d8"><circle class="n" cx="2004" cy="872.3" r="10.5"/></g>
<g id="g2"><circle class="n" cx="2056" cy="973" r="10.5"/></g>
<g id="d9"><circle class="n" cx="2095" cy="676" r="10.5"/></g>
<g id="d10"><circle class="n" cx="2146" cy="776" r="10.5"/></g>
<g id="g3"><circle class="n" cx="2197.6" cy="874" r="10.5"/></g>
<g id="d11"><circle class="n" cx="2246" cy="578.5" r="10.5"/></g>
<g id="d12"><circle class="n" cx="2308.6" cy="678" r="10.5"/></g>
<g id="g4"><circle class="n" cx="2359" cy="775" r="10.5"/></g>
<g id="d13"><circle class="n" cx="2318" cy="482" r="10.5"/></g>
<g id="h1"><circle class="n" cx="2369" cy="578.5" r="10.5"/></g>
<g id="h2"><circle class="n" cx="2401" cy="481" r="10.5"/></g>
<g id="h3"><circle class="n" cx="2432" cy="481" r="10.5"/></g>
<g id="h4"><circle class="n" cx="2512.6" cy="480" r="10.5"/></g>
<g id="h5"><circle class="n" cx="2615" cy="480" r="10.5"/></g>
<g id="h6"><circle class="n" cx="2422" cy="578.5" r="10.5"/></g>
<g id="i2"><circle class="n" cx="2617" cy="578.5" r="10.5"/></g>
<g id="i1"><circle class="n" cx="2718" cy="578.5" r="10.5"/></g>
<g id="f7"><circle class="n" cx="2422" cy="676.3" r="10.5"/></g>
<g id="j0"><circle class="n" cx="2757.5" cy="677" r="10.5"/></g>
<g id="j1"><circle class="n" cx="2778.5" cy="677" r="10.5"/></g>
<g id="s1"><circle class="n" cx="2175.7" cy="381" r="10.5"/></g>
<g id="t1"><circle class="n" cx="2319" cy="381" r="10.5"/></g>
<g id="t2"><circle class="n" cx="2430.5" cy="380" r="10.5"/></g>
<g id="x1"><circle class="n" cx="2564" cy="282.4" r="10.5"/></g>
<g id="f6"><circle class="n" cx="2699.4" cy="776.7" r="10.5"/></g>
<g id="f5"><circle class="n" cx="2637" cy="874" r="10.5"/></g>
<g id="f5b"><circle class="n" cx="2699.4" cy="873" r="10.5"/></g>
<g id="f4"><circle class="n" cx="2564.7" cy="971.6" r="10.5"/></g>
<g id="f4b"><circle class="n" cx="2699" cy="971.6" r="10.5"/></g>
<g id="f3"><circle class="n" cx="2493.4" cy="1070.8" r="10.5"/></g>
<g id="f3b"><circle class="n" cx="2698.5" cy="1070.8" r="10.5"/></g>
<g id="f2"><circle class="n" cx="2441.8" cy="1168.4" r="10.5"/></g>
<g id="f2b"><circle class="n" cx="2698.5" cy="1169.6" r="10.5"/></g>
<g id="f1"><circle class="n" cx="2359" cy="1268" r="10.5"/></g>
<g id="k2"><circle class="n" cx="2565.7" cy="1268.7" r="10.5"/></g>
<g id="k3"><circle class="n" cx="2698.5" cy="1268" r="10.5"/></g>
<g id="k1"><circle class="n" cx="2781" cy="1270" r="10.5"/></g>
<g id="k4"><circle class="n" cx="2820.4" cy="1268.7" r="10.5"/></g>
<g id="k5"><circle class="n" cx="2853.3" cy="1268.7" r="10.5"/></g>
<g id="k6"><circle class="n" cx="2892.7" cy="1268.7" r="10.5"/></g>
<g id="k7"><circle class="n" cx="2945.3" cy="1270" r="10.5"/></g>
<g id="l1"><circle class="n" cx="2619" cy="1369.5" r="10.5"/></g>
<g id="l2"><circle class="n" cx="2667.5" cy="1367.5" r="10.5"/></g>
<g id="l3"><circle class="n" cx="2708" cy="1369.5" r="10.5"/></g>
<!-- cycle nodes -->
<g id="p1"><circle class="n" cx="854.6" cy="577.3" r="12"/></g>
<g id="p2"><circle class="n" cx="895.9" cy="577.3" r="12"/></g>
<g id="p3"><circle class="n" cx="937.6" cy="457" r="12"/></g>
<g id="p4"><circle class="n" cx="1100.8" cy="578.5" r="12"/></g>
<g id="p5"><circle class="n" cx="1143" cy="459" r="12"/></g>
<g id="p6"><circle class="n" cx="1264" cy="457" r="12"/></g>
<g id="p7"><circle class="n" cx="1347" cy="458" r="12"/></g>
<g id="p8"><circle class="n" cx="1180.4" cy="524.3" r="12"/></g>
<g id="p9"><circle class="n" cx="1305.7" cy="527.5" r="12"/></g>
<g id="p10"><circle class="n" cx="1182" cy="574.5" r="12"/></g>
<g id="p11"><circle class="n" cx="1386.8" cy="527.5" r="12"/></g>
<g id="p12"><circle class="n" cx="1429" cy="526.3" r="12"/></g>
<g id="p13"><circle class="n" cx="1470" cy="525.5" r="12"/></g>
<!-- finish box nodes -->
<g id="q1"><ellipse class="n" cx="1654.4" cy="1613.5" rx="7.5" ry="9"/></g>
<g id="q2"><ellipse class="n" cx="1717.6" cy="1613.5" rx="7.5" ry="9"/></g>
<g id="q3"><ellipse class="n" cx="1756.4" cy="1613.5" rx="7.5" ry="9"/></g>
<g id="q4"><ellipse class="n" cx="1798.7" cy="1613.5" rx="7.5" ry="9"/></g>
<g id="q5"><ellipse class="n" cx="1838.5" cy="1613.5" rx="7.5" ry="9"/></g>
<g id="q6"><ellipse class="n" cx="1879.3" cy="1613.5" rx="7.5" ry="9"/></g>
<g id="q7"><ellipse class="n" cx="2054.9" cy="1611" rx="7.5" ry="9"/></g>
<g id="q8"><ellipse class="n" cx="2124.5" cy="1613.5" rx="7.5" ry="9"/></g>
<g id="q9"><ellipse class="n" cx="2288.7" cy="1613.5" rx="7.5" ry="9"/></g>
<g id="q10"><ellipse class="n" cx="2350.8" cy="1613.5" rx="7.5" ry="9"/></g>
<g id="q11"><ellipse class="n" cx="2452.6" cy="1613.5" rx="7.5" ry="9"/></g>
<g id="q12"><ellipse class="n" cx="2555.9" cy="1613.5" rx="7.5" ry="9"/></g>
<g id="q13"><ellipse class="n" cx="2596.2" cy="1613.5" rx="7.5" ry="9"/></g>
<g id="q14"><ellipse class="n" cx="2637" cy="1613.5" rx="7.5" ry="9"/></g>
<g id="q15"><ellipse class="n" cx="2680.3" cy="1612" rx="7.5" ry="9"/></g>
<g id="w1"><ellipse class="n" cx="1652" cy="1761" rx="7.5" ry="9"/></g>
<g id="w2"><ellipse class="n" cx="1695.2" cy="1761" rx="7.5" ry="9"/></g>
<g id="w3"><ellipse class="n" cx="1715.6" cy="1761" rx="7.5" ry="9"/></g>
<g id="w4"><ellipse class="n" cx="1736.5" cy="1761" rx="7.5" ry="9"/></g>
<g id="w5"><ellipse class="n" cx="1761.4" cy="1761" rx="7.5" ry="9"/></g>
<g id="w6"><ellipse class="n" cx="1799.7" cy="1761" rx="7.5" ry="9"/></g>
<g id="w7"><ellipse class="n" cx="1929" cy="1761" rx="7.5" ry="9"/></g>
<g id="w8"><ellipse class="n" cx="1968.8" cy="1761" rx="7.5" ry="9"/></g>
<g id="w9"><ellipse class="n" cx="2106" cy="1761" rx="7.5" ry="9"/></g>
<g id="w10"><ellipse class="n" cx="2143.4" cy="1761" rx="7.5" ry="9"/></g>
<g id="w11"><ellipse class="n" cx="2206.6" cy="1761" rx="7.5" ry="9"/></g>
<g id="w12"><ellipse class="n" cx="2266.3" cy="1761" rx="7.5" ry="9"/></g>
<g id="w13"><ellipse class="n" cx="2329.7" cy="1761" rx="7.5" ry="9"/></g>

<!-- labels -->
<g id="labels">
<g class="l">
<text x="428" y="1281">仮囲い･事務所</text>
<text x="528" y="1294">遣り方･杭芯</text>
<text x="681.5" y="1269">現場の状況によって異なる</text>
<text x="652" y="1295">杭工事</text>
<text x="417" y="1395">遣り方･杭芯</text>
<text x="557" y="1390">道路側山留親杭打設</text>
<text x="775" y="1344">根切り</text>
<text x="762" y="1446">横矢板</text>
<text x="815" y="1395">杭頭処理</text>
<text x="877" y="1395">砕石</text>
<text x="972" y="1247">基礎型枠工事</text>
<text x="999" y="1343">基礎鉄筋工事</text>
<text x="1138" y="1299">埋め戻し</text>
<text x="1441.6" y="1145.5">梁支保工28日</text>
<text x="1627" y="1053">梁下支保工21日</text>
<text x="1609.6" y="1206">解体･墨出し</text>
<text x="1793.7" y="1050">解体･墨出し</text>
<text x="1763" y="951.5">スラブ養生21日</text>
<text x="1908" y="1018">解体･墨出し</text>
<text x="1897" y="855">スラブ養生21日</text>
<text x="2005" y="908.5">解体･墨出し</text>
<text x="2050" y="750.6">スラブ養生21日</text>
<text x="2204" y="817">解体･墨出し</text>
<text x="2189" y="655">スラブ養生21日</text>
<text x="2332" y="723">解体･墨出し</text>
<text x="2066" y="1253">1階仕上工事50日</text>
<text x="2171" y="1146">2階仕上工事55日</text>
<text x="2182" y="1052">3階仕上工事55日</text>
<text x="2169" y="959">サッシ･ガラス･ウレタン･</text>
<text x="2391" y="955">木工事･ボード･クロス･住設</text>
<text x="2341" y="994">4階仕上工事50日</text>
<text x="2408" y="859">5階仕上工事42日</text>
<text x="2457.5" y="757">6階仕上工事33日</text>
<text x="2529" y="659.4">サッシ･ガラス･ウレタン･</text>
<text x="2619" y="640">各種仕上工</text>
<text x="2676" y="660">仕上工事33</text>
<text x="2639.5" y="693.5">木工事･ボード･クロス･住設</text>
<text x="2718" y="742.5">ダメ 廻り</text>
<text x="2664" y="843">ダメ 廻り</text>
<text x="2629.6" y="951.5">ダメ 廻り</text>
<text x="2602.6" y="1052">ダメ 廻り</text>
<text x="2565.7" y="1154.3">ダメ 廻り</text>
<text x="2393.6" y="1304">ダメ 廻り</text>
<text x="2467" y="1250">共用部仕上工</text>
<text x="2627" y="1218">足場がらみ</text>
<text x="2634.5" y="1248">外部玄関まわ</text>
<text x="2620" y="1298">アプローチまわり</text>
<text x="2334" y="1348">一般外構工事</text>
<text x="2555" y="1395">植栽</text>
<text x="2649" y="1344">路盤</text>
<text x="2691" y="1343">舗装</text>
<text x="2738" y="1350">ライ</text>
<text x="2745" y="1386">植栽</text>
<text x="2492" y="552.4">ELV工事</text>
<text x="2698.5" y="551">エレベーター仮使</text>
<text x="2718" y="627">クリーニング</text>
<text x="2398.5" y="617">解体･墨出し</text>
<text x="2324" y="554.4">防水下地乾燥</text>
<text x="2313" y="598">支保工14日</text>
<text x="2350" y="527">目安：8％</text>
<text x="2371.5" y="456" class="r">支保工8日</text>
<text x="2460" y="458">防水工事</text>
<text x="2561" y="436">シンダー</text>
<text x="2561" y="458">手すりなど</text>
<text x="2752.5" y="459">足場がらみ外構工事･設備工事</text>
<text x="2032.5" y="365.6">各階外部タイル</text>
<text x="2224" y="348.7">6階外部タイル</text>
<text x="2367" y="353.6">7階～塔屋外壁タイル下</text>
<text x="2501" y="357.6">外壁タイル</text>
<text x="2455" y="307.4">シールなど</text>
<text x="2735" y="1207" class="v" style="font-size:17px;letter-spacing:2px">クリーニング</text>
<text x="2843.5" y="1198" class="v" style="font-size:17px;letter-spacing:2px">クリーニング</text>
</g>
<g class="l" style="font-size:17px">
<text x="910.8" y="428">柱圧接･フープ</text>
<text x="1032" y="432">壁配筋</text>
<text x="1196.8" y="434">梁配筋</text>
<text x="1363" y="434.7">スラブ･ベランダ配筋</text>
<text x="1433" y="468">階段配筋</text>
<text x="1105.8" y="502">スラブ</text>
<text x="1243.6" y="505.4">ベランダ型枠</text>
<text x="1343" y="507">階段</text>
<text x="891.9" y="552.4">墨出し</text>
<text x="997.8" y="554.4">柱･梁･かべ</text>
<text x="1283.8" y="604">返し型枠･外部型枠</text>
</g>
<rect x="1392" y="540" width="32" height="57.4" class="gb"/><text x="1408" y="558.5" style="font-size:17px">検</text><text x="1408" y="580" style="font-size:17px">査</text>
<rect x="1435.6" y="556.5" width="49.4" height="24.1" class="gb"/><text x="1460.3" y="568.5" style="font-size:16px">コン打</text>
<!-- boxed labels -->
<g style="font-size:15px">
<rect x="1043" y="1225" width="98" height="27" class="bx"/><text x="1092" y="1238.5">2/3　基礎コン</text>
<rect x="1214" y="1258" width="96" height="29" class="bx"/><text x="1262" y="1272.5">2/20土間コン</text>
<rect x="1169.5" y="1386.7" width="96.5" height="27.9" class="bx"/><text x="1217.8" y="1400.6">山留杭引抜き</text>
<rect x="1109" y="1107" width="72.4" height="28.5" class="bx"/><text x="1145.2" y="1121.2">外部足場</text>
<rect x="1272" y="1134" width="62.6" height="28" class="bx"/><text x="1303.3" y="1148">3/8　1階</text>
<rect x="1252.5" y="1186.5" width="59.5" height="28.1" class="bx"/><text x="1282.2" y="1200.5">1階16日</text>
<rect x="1312" y="1033" width="36.5" height="28" class="bx"/><text x="1330.2" y="1047">足場</text>
<rect x="1467.4" y="936" width="36.3" height="29.5" class="bx"/><text x="1485.5" y="950.7">足場</text>
<rect x="1615.6" y="836" width="36.4" height="28.3" class="bx"/><text x="1633.8" y="850.1">足場</text>
<rect x="1764" y="739" width="36" height="29" class="bx"/><text x="1782" y="753.5">足場</text>
<rect x="1907" y="642" width="36" height="28" class="bx"/><text x="1925" y="656">足場</text>
<rect x="2037.5" y="542.4" width="35.5" height="28.9" class="bx"/><text x="2055.2" y="556.8">足場</text>
<rect x="1411" y="1040" width="69" height="27" class="bx"/><text x="1445.5" y="1053.5">3/30　2階</text>
<rect x="1413" y="1081" width="60" height="28" class="bx"/><text x="1443" y="1095">2階15日</text>
<rect x="1537" y="1134" width="29" height="28" class="bx"/><text x="1551.5" y="1148">4/6</text>
<rect x="1560" y="937.4" width="71" height="27.3" class="bx"/><text x="1595.5" y="951">4/16　3階</text>
<rect x="1569" y="979.6" width="60.5" height="28.1" class="bx"/><text x="1599.2" y="993.6">3階15日</text>
<rect x="1683" y="983.6" width="70" height="28.1" class="bx"/><text x="1718" y="997.6" class="r">3～5日</text>
<rect x="1705.6" y="839" width="63.4" height="28" class="bx"/><text x="1737.3" y="853">5/2　4階</text>
<rect x="1706.6" y="882" width="59.4" height="28.5" class="bx"/><text x="1736.3" y="896.2">4階14日</text>
<rect x="1846" y="739" width="71" height="29" class="bx"/><text x="1881.5" y="753.5">5/23　5階</text>
<rect x="1852.4" y="784.7" width="60.6" height="28.1" class="bx"/><text x="1882.7" y="798.7">5階14日</text>
<rect x="2005" y="642" width="63" height="28" class="bx"/><text x="2036.5" y="656">6/8　6階</text>
<rect x="2010" y="687.5" width="60" height="28.1" class="bx"/><text x="2040" y="701.5">6階14日</text>
<rect x="2154" y="727.7" width="36.7" height="28.1" class="bx"/><text x="2172.3" y="741.7">6/18</text>
<rect x="2163" y="542.4" width="71" height="28.1" class="bx"/><text x="2198.5" y="556.4">6/28　7階</text>
<rect x="2137" y="585.8" width="60.6" height="28.9" class="bx"/><text x="2167.3" y="600.2">7階15日</text>
<rect x="2277" y="631" width="27.6" height="29" class="bx"/><text x="2290.8" y="645.5">7/4</text>
<rect x="2304" y="740.5" width="35.5" height="29" class="bx"/><text x="2321.7" y="755">7/13</text>
<rect x="2256" y="411.8" width="79" height="28.2" class="bx"/><text x="2295.5" y="426">7/6塔屋</text>
<rect x="2348" y="245" width="124" height="29" class="bx"/><text x="2410" y="259.5" style="font-size:17px">外部足場</text>
<rect x="2396" y="150.7" width="90" height="23.3" class="bx"/><text x="2441" y="162.4" style="font-size:16px">目安:2ヶ月</text>
<rect x="2649" y="320.6" width="131.6" height="24.1" class="bx"/><text x="2714.8" y="332.6" style="font-size:16px">目安約 1ヶ月</text>
<rect x="1694" y="1288.6" width="158" height="22.4" class="bx"/><text x="1773" y="1299.8">材料置き場として使用</text>
<rect x="1542.5" y="1325.7" width="134.5" height="26.7" fill="#fff" stroke="#f00" stroke-width="2"/><text x="1609.7" y="1339" class="r" style="font-size:16px">監理者と協議</text>
<rect x="2789.4" y="1285.8" width="27.1" height="102.5" class="bx"/><text x="2803" y="1337" class="v" style="font-size:17px;letter-spacing:2px">社内検査</text>
<rect x="2821.4" y="1284.6" width="28" height="100.9" class="bx"/><text x="2835.4" y="1335" class="v" style="font-size:17px;letter-spacing:2px">行政検査</text>
<rect x="2857.3" y="1287.8" width="29" height="100.5" class="bx"/><text x="2871.8" y="1338" class="v" style="font-size:17px;letter-spacing:2px">竣工検査</text>
<rect x="2928" y="1287.8" width="27.6" height="100.5" class="bx"/><text x="2941.8" y="1326" class="v" style="font-size:17px;letter-spacing:2px">引渡し</text>
</g>
<!-- finish box labels -->
<g class="l" style="font-size:16px">
<text x="1948" y="1600.7">LGS</text>
<text x="2088.7" y="1596.7">LGS</text>
<text x="2494.4" y="1596">クロス</text>
<text x="1709" y="1640">め</text>
<text x="1726.5" y="1677" class="v" style="letter-spacing:2px">モルタル詰</text>
<text x="1745" y="1658.5" class="v" style="letter-spacing:2px">ガラス</text>
<text x="1779.8" y="1656.5" class="v" style="letter-spacing:20px">額縁</text>
<text x="1816" y="1667" class="v" style="letter-spacing:2px">ウレタン</text>
<text x="1858.4" y="1642.5">U B</text>
<text x="1933" y="1634">木軸</text>
<text x="2003.6" y="1635">木軸</text>
<text x="2084.7" y="1634.6">造</text>
<text x="2084.7" y="1672.4">作</text>
<text x="2201.6" y="1636.6">壁･天井ボード</text>
<text x="2310" y="1652" class="v" style="letter-spacing:2px">置き床</text>
<text x="2378.8" y="1638.6">フローリング</text>
<text x="2493.4" y="1640.6">床暖房</text>
<text x="2577" y="1670" class="v" style="letter-spacing:3px">タイル</text>
<text x="2617.3" y="1663.5" class="v" style="letter-spacing:18px">住設</text>
<text x="2659" y="1668" class="v" style="letter-spacing:1px">シール</text>
</g>
<g style="font-size:15px">
<rect x="1816" y="1730" width="46" height="23" class="bx"/><text x="1839" y="1741.5">A班</text>
<rect x="1862.4" y="1772" width="45.6" height="24.8" class="bx"/><text x="1885.2" y="1784.4">B班</text>
<rect x="1996.7" y="1737.4" width="45.7" height="21.6" class="bx"/><text x="2019.5" y="1748.2">A班</text>
<rect x="2044" y="1771.3" width="45.7" height="21.9" class="bx"/><text x="2066.8" y="1782.2">B班</text>
</g>
</g>
</svg>
